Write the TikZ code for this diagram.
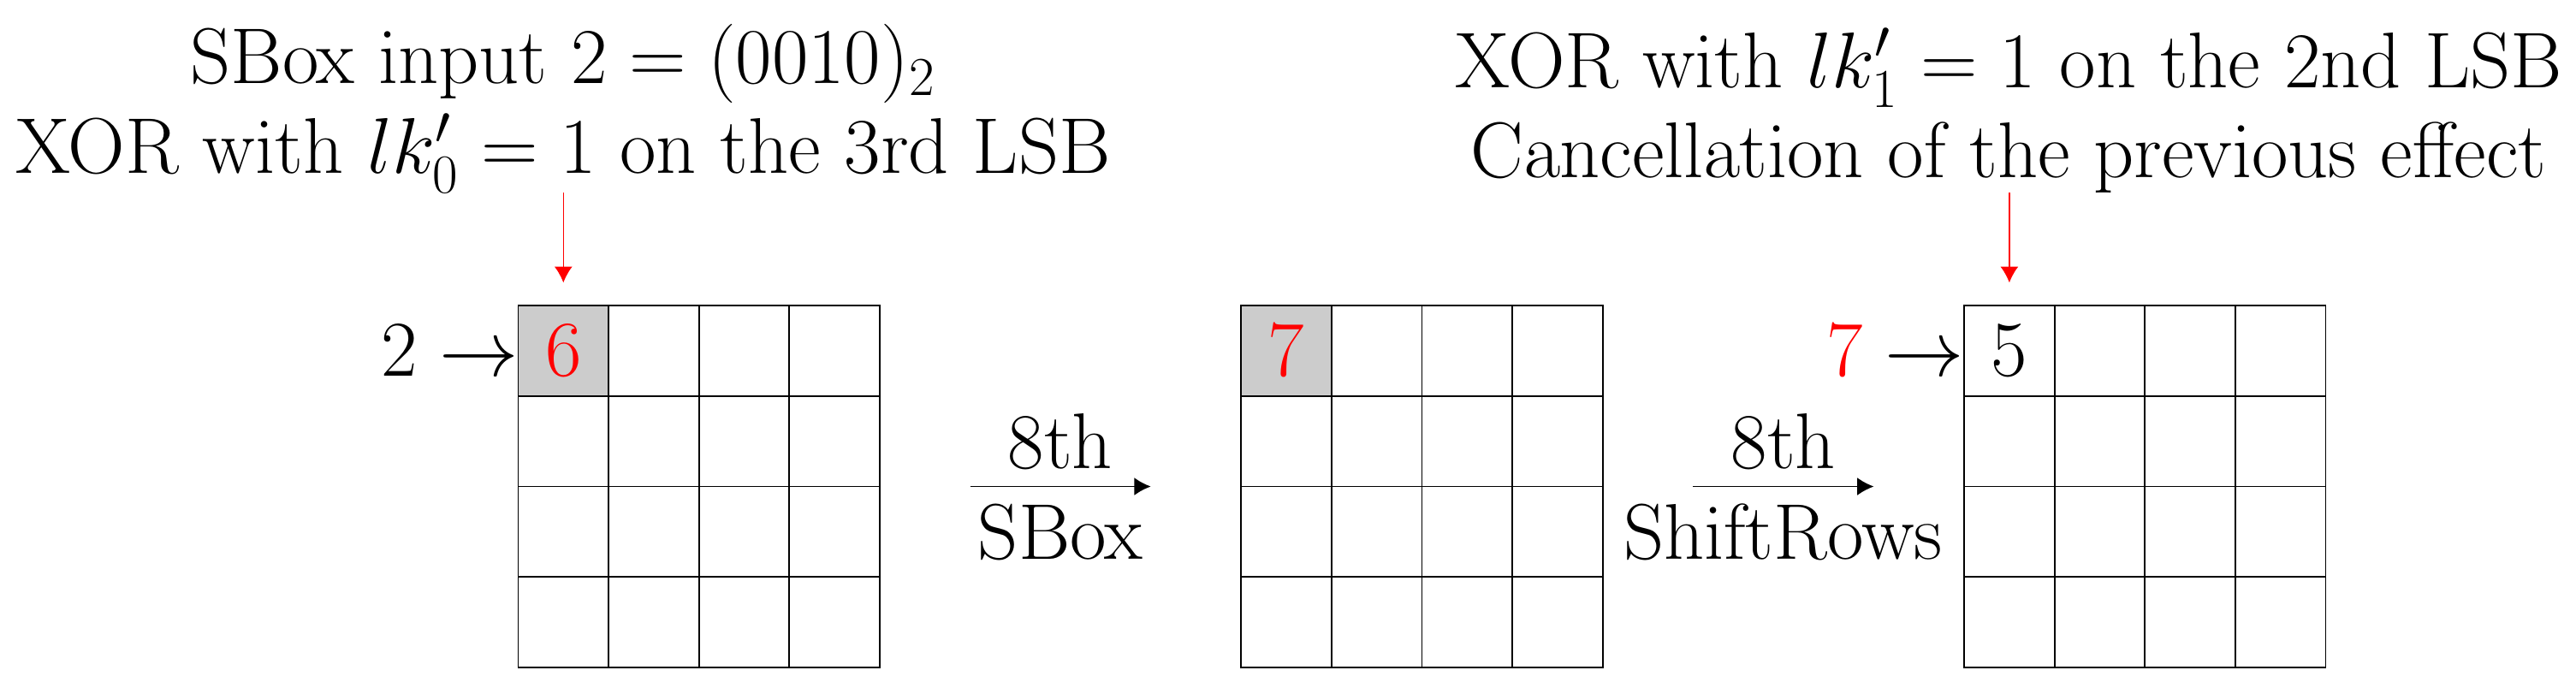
\documentclass[tikz,border=0pt]{standalone}
\usepackage[OT1]{fontenc}
\usetikzlibrary{arrows.meta,calc}
\begin{document}
\begin{tikzpicture}[
  txt/.style={font=\fontsize{25.92}{28.3}\selectfont, inner sep=0pt, outer sep=0pt},
  cellbox/.style={draw, line width=0.5pt, minimum size=1cm, inner sep=0pt, outer sep=0pt, anchor=north west, txt},
  hot/.style={fill=black!20},
  redarr/.style={red, line width=0.4pt, -{Latex[length=5pt,width=5.6pt]}},
  steparr/.style={line width=0.5pt, -{Latex[length=5.2pt,width=5.6pt]}},
]
\useasboundingbox (-5.734,-4.221) rectangle (22.770,3.384);
% grids
\foreach \g/\x in {1/0,2/8,3/16}{
  \foreach \r in {1,...,4}{
    \foreach \c in {1,...,4}{
      \ifnum\r\c=11 \else
        \node[cellbox] (g\g-\r-\c) at (\x+\c-1,1-\r) {};
      \fi
    }
  }
}
\node[cellbox, hot, text=red] (g1-1-1) at (0,0) {6};
\node[cellbox, hot, text=red] (g2-1-1) at (8,0) {7};
\node[cellbox] (g3-1-1) at (16,0) {5};
% inputs
\node[txt, anchor=east] (in1) at (g1-1-1.west) {$2\rightarrow$};
\node[txt, anchor=east] (in3) at (g3-1-1.west) {$\textcolor{red}{7}\rightarrow$};
% captions
\node[txt, align=center, anchor=south] (capL) at ($(g1-1-1.north)+(0,1.25)$)
  {SBox input $2=(0010)_2$\\XOR with $lk'_0=1$ on the 3rd LSB};
\node[txt, align=center, anchor=south] (capR) at ($(g3-1-1.north)+(0,1.25)$)
  {XOR with $lk'_1=1$ on the 2nd LSB\\Cancellation of the previous effect};
\draw[redarr, shorten >=0.256cm] (capL.south) -- (g1-1-1.north);
\draw[redarr, shorten >=0.256cm] (capR.south) -- (g3-1-1.north);
% step arrows
\draw[steparr, shorten <=1cm, shorten >=1cm] (g1-2-4.south east) -- (g2-2-1.south west)
  node[txt, midway, anchor=base, yshift=0.196cm] (s1a) {8th}
  node[txt, midway, anchor=base, yshift=-0.805cm] (s1b) {SBox};
\draw[steparr, shorten <=1cm, shorten >=1cm] (g2-2-4.south east) -- (g3-2-1.south west)
  node[txt, midway, anchor=base, yshift=0.196cm] (s2a) {8th}
  node[txt, midway, anchor=base, yshift=-0.805cm] (s2b) {ShiftRows};
\end{tikzpicture}
\end{document}
